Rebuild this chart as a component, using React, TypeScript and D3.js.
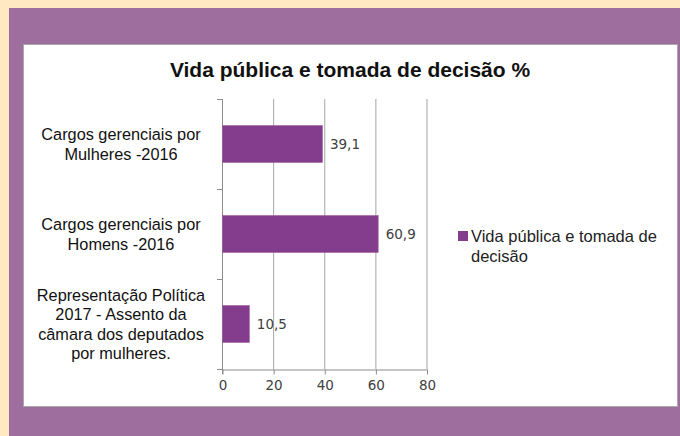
import React, { useRef, useEffect } from 'react';
import * as d3 from 'd3';

const categories = [
  ['Cargos gerenciais por', 'Mulheres -2016'],
  ['Cargos gerenciais por', 'Homens -2016'],
  ['Representação Política', '2017 - Assento da', 'câmara dos deputados', 'por mulheres.'],
];
const values = [39.1, 60.9, 10.5];
const valueLabels = ['39,1', '60,9', '10,5'];
const xTicks = [0, 20, 40, 60, 80];
const seriesName = ['Vida pública e tomada de', 'decisão'];
const title = 'Vida pública e tomada de decisão %';

const W = 680;
const H = 436;
const purple = '#843c8c';

const App = () => {
  const ref = useRef(null);

  useEffect(() => {
    const svg = d3.select(ref.current);
    svg.selectAll('*').remove();

    // page background and frames
    svg.append('rect').attr('width', W).attr('height', H).attr('fill', '#ffe8c2');
    svg.append('rect').attr('x', 9).attr('y', 8).attr('width', W - 9).attr('height', H - 8).attr('fill', '#9e6f9e');
    svg.append('rect')
      .attr('x', 23.5).attr('y', 44.5).attr('width', 654).attr('height', 362)
      .attr('fill', '#fff').attr('stroke', '#a9a9a9');

    svg.append('text')
      .attr('x', 350).attr('y', 77)
      .attr('text-anchor', 'middle')
      .attr('font-family', 'Liberation Sans, Arial, sans-serif')
      .attr('font-weight', 'bold').attr('font-size', 21).attr('fill', '#111')
      .text(title);

    const left = 222, right = 426.5, top = 99, bottom = 369;
    const x = d3.scaleLinear().domain([0, 80]).range([left, right]);
    const keys = categories.map((_, i) => String(i));
    const y = d3.scaleBand().domain(keys).range([top, bottom]).paddingInner(0.59).paddingOuter(0.295);

    // gridlines
    svg.append('g').selectAll('line').data(xTicks.slice(1)).join('line')
      .attr('x1', d => x(d) + 0.5).attr('x2', d => x(d) + 0.5)
      .attr('y1', top).attr('y2', bottom)
      .attr('stroke', '#a6a6a6');

    // x axis
    const xAxis = svg.append('g')
      .attr('transform', `translate(0.5, ${bottom + 0.5})`)
      .call(d3.axisBottom(x).tickValues(xTicks).tickSize(5).tickSizeOuter(0).tickPadding(6));
    xAxis.select('.domain').attr('stroke', '#8c8c8c');
    xAxis.selectAll('line').attr('stroke', '#8c8c8c');
    xAxis.selectAll('text')
      .attr('font-family', 'DejaVu Sans, Verdana, sans-serif')
      .attr('font-size', 13.5).attr('fill', '#404040');

    // y axis line and category separators
    const step = y.step();
    const bounds = d3.range(keys.length + 1).map(i => top + i * step);
    svg.append('line')
      .attr('x1', left + 0.5).attr('x2', left + 0.5).attr('y1', top).attr('y2', bottom + 5)
      .attr('stroke', '#8c8c8c');
    svg.append('g').selectAll('line').data(bounds).join('line')
      .attr('x1', left - 5).attr('x2', left + 0.5)
      .attr('y1', d => Math.round(d) + 0.5).attr('y2', d => Math.round(d) + 0.5)
      .attr('stroke', '#8c8c8c');

    // bars
    svg.append('g').selectAll('rect').data(values).join('rect')
      .attr('x', x(0) + 0.5)
      .attr('y', (d, i) => y(String(i)))
      .attr('width', d => x(d) - x(0))
      .attr('height', y.bandwidth())
      .attr('fill', purple)
      .attr('stroke', '#9a5aa0').attr('stroke-width', 0.6);

    // value labels
    svg.append('g').selectAll('text').data(values).join('text')
      .attr('x', d => x(d) + 8)
      .attr('y', (d, i) => y(String(i)) + y.bandwidth() / 2 + 5)
      .attr('font-family', 'DejaVu Sans, Verdana, sans-serif')
      .attr('font-size', 13.5).attr('fill', '#404040')
      .text((d, i) => valueLabels[i]);

    // category labels
    const lh = 19.2;
    categories.forEach((lines, i) => {
      const cy = y(String(i)) + y.bandwidth() / 2;
      const t = svg.append('text')
        .attr('text-anchor', 'middle')
        .attr('font-family', 'Liberation Sans, Arial, sans-serif')
        .attr('font-size', 16.3).attr('fill', '#111');
      lines.forEach((l, j) => {
        t.append('tspan')
          .attr('x', 121)
          .attr('y', cy + (j - (lines.length - 1) / 2) * lh + 6)
          .text(l);
      });
    });

    // legend
    svg.append('rect').attr('x', 458).attr('y', 231).attr('width', 10).attr('height', 10).attr('fill', purple);
    const lt = svg.append('text')
      .attr('font-family', 'Liberation Sans, Arial, sans-serif')
      .attr('font-size', 16.5).attr('fill', '#222');
    seriesName.forEach((l, j) => {
      lt.append('tspan').attr('x', 471).attr('y', 242 + j * 19.5).text(l);
    });
  }, []);

  return (
    <svg ref={ref} width={W} height={H} style={{ position: 'absolute', left: 0, top: 0, display: 'block' }}></svg>
  );
};

export default App;
